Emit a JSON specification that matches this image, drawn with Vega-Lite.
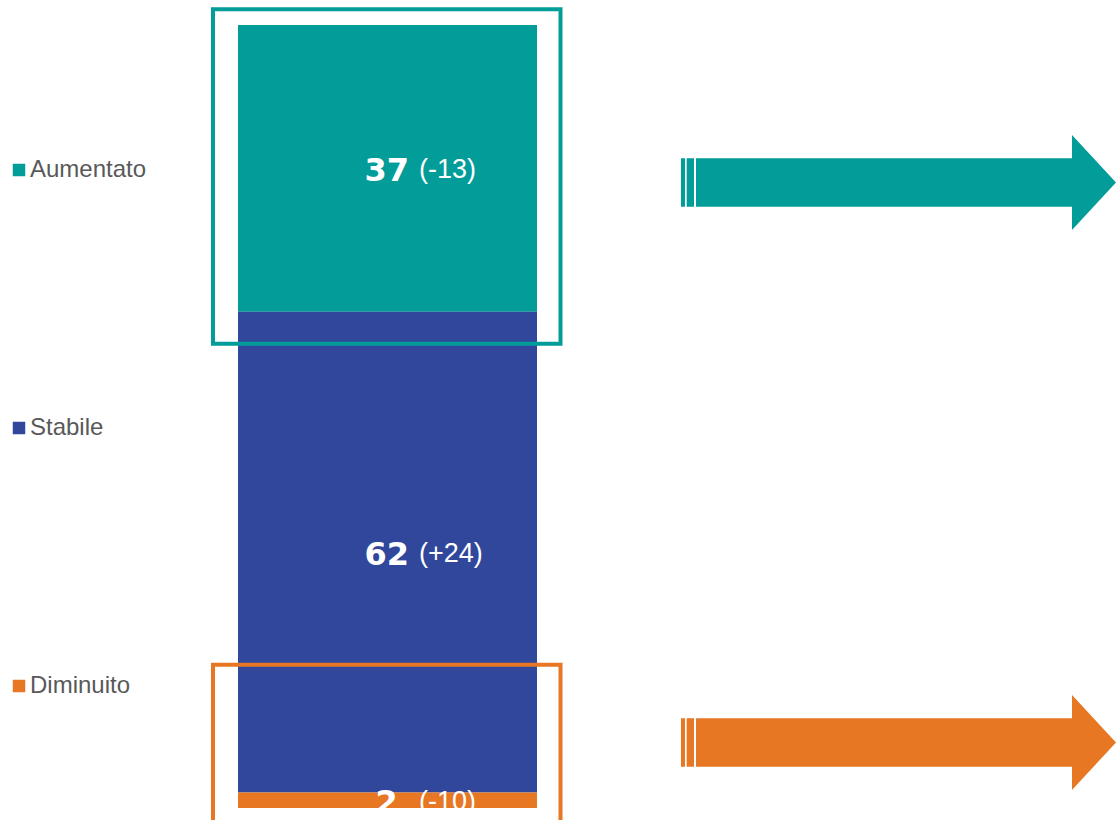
{
  "$schema": "https://vega.github.io/schema/vega-lite/v6.json",
  "width": 1116,
  "height": 820,
  "padding": 0,
  "autosize": {"type": "none", "contains": "padding"},
  "background": "white",
  "config": {"view": {"stroke": null}, "axis": {"disable": true}},
  "data": {
    "values": [
      {"category": "Aumentato", "value": 37, "change": "(-13)", "rank": 3},
      {"category": "Stabile", "value": 62, "change": "(+24)", "rank": 2},
      {"category": "Diminuito", "value": 2, "change": "(-10)", "rank": 1}
    ]
  },
  "transform": [
    {"stack": "value", "groupby": [], "sort": [{"field": "rank", "order": "ascending"}], "as": ["v0", "v1"]},
    {"calculate": "(datum.v0 + datum.v1) / 2", "as": "mid"}
  ],
  "layer": [
    {
      "mark": {"type": "rect"},
      "encoding": {
        "x": {"datum": 238, "type": "quantitative", "scale": {"domain": [0, 1116], "nice": false, "zero": false}},
        "x2": {"datum": 537},
        "y": {"field": "v0", "type": "quantitative", "scale": {"domain": [-1.548, 104.22], "nice": false, "zero": false}},
        "y2": {"field": "v1"},
        "color": {
          "field": "category",
          "type": "nominal",
          "scale": {"domain": ["Aumentato", "Stabile", "Diminuito"], "range": ["#029C99", "#30479C", "#E77722"]},
          "legend": {
            "orient": "none",
            "legendX": 7,
            "legendY": 158,
            "title": null,
            "symbolType": "square",
            "symbolSize": 156,
            "symbolStrokeWidth": 0,
            "symbolOpacity": 1,
            "labelFont": "Liberation Sans",
            "labelFontSize": 24,
            "labelColor": "#595959",
            "labelOffset": -1,
            "rowPadding": 234,
            "padding": 0
          }
        }
      }
    },
    {
      "data": {"values": [{}]},
      "mark": {"type": "rect", "filled": false, "stroke": "#029C99", "strokeWidth": 4},
      "encoding": {
        "x": {"datum": 213, "type": "quantitative", "scale": {"domain": [0, 1116], "nice": false, "zero": false}},
        "x2": {"datum": 560.5},
        "y": {"datum": 103.02, "type": "quantitative", "scale": {"domain": [-1.548, 104.22], "nice": false, "zero": false}},
        "y2": {"datum": 59.89}
      }
    },
    {
      "data": {"values": [{}]},
      "mark": {"type": "rect", "filled": false, "stroke": "#E77722", "strokeWidth": 4},
      "encoding": {
        "x": {"datum": 213, "type": "quantitative", "scale": {"domain": [0, 1116], "nice": false, "zero": false}},
        "x2": {"datum": 560.5},
        "y": {"datum": 18.48, "type": "quantitative", "scale": {"domain": [-1.548, 104.22], "nice": false, "zero": false}},
        "y2": {"datum": -4}
      }
    },
    {
      "data": {"values": [{}]},
      "mark": {
        "type": "point",
        "filled": true,
        "opacity": 1,
        "color": "#029C99",
        "strokeWidth": 0,
        "size": 9025,
        "shape": "M -7.916 -0.509 L 0 -0.509 L 0 -1 L 0.926 0 L 0 1 L 0 0.509 L -7.916 0.509 Z M -8.232 -0.509 L -8.147 -0.509 L -8.147 0.509 L -8.232 0.509 Z M -8.112 -0.509 L -7.958 -0.509 L -7.958 0.509 L -8.112 0.509 Z"
      },
      "encoding": {
        "x": {"datum": 1072, "type": "quantitative", "scale": {"domain": [0, 1116], "nice": false, "zero": false}},
        "y": {"datum": 80.68, "type": "quantitative", "scale": {"domain": [-1.548, 104.22], "nice": false, "zero": false}}
      }
    },
    {
      "data": {"values": [{}]},
      "mark": {
        "type": "point",
        "filled": true,
        "opacity": 1,
        "color": "#E77722",
        "strokeWidth": 0,
        "size": 9025,
        "shape": "M -7.916 -0.509 L 0 -0.509 L 0 -1 L 0.926 0 L 0 1 L 0 0.509 L -7.916 0.509 Z M -8.232 -0.509 L -8.147 -0.509 L -8.147 0.509 L -8.232 0.509 Z M -8.112 -0.509 L -7.958 -0.509 L -7.958 0.509 L -8.112 0.509 Z"
      },
      "encoding": {
        "x": {"datum": 1072, "type": "quantitative", "scale": {"domain": [0, 1116], "nice": false, "zero": false}},
        "y": {"datum": 8.45, "type": "quantitative", "scale": {"domain": [-1.548, 104.22], "nice": false, "zero": false}}
      }
    },
    {
      "mark": {"type": "text", "font": "DejaVu Sans", "fontWeight": "bold", "fontSize": 32, "color": "white", "align": "center", "baseline": "middle", "dy": 3},
      "encoding": {
        "x": {"datum": 386.7, "type": "quantitative", "scale": {"domain": [0, 1116], "nice": false, "zero": false}},
        "y": {"field": "mid", "type": "quantitative", "scale": {"domain": [-1.548, 104.22], "nice": false, "zero": false}},
        "text": {"field": "value", "type": "quantitative"}
      }
    },
    {
      "mark": {"type": "text", "font": "Liberation Sans", "fontSize": 27, "color": "white", "align": "left", "baseline": "middle", "dy": 2},
      "encoding": {
        "x": {"datum": 419, "type": "quantitative", "scale": {"domain": [0, 1116], "nice": false, "zero": false}},
        "y": {"field": "mid", "type": "quantitative", "scale": {"domain": [-1.548, 104.22], "nice": false, "zero": false}},
        "text": {"field": "change", "type": "nominal"}
      }
    }
  ]
}
